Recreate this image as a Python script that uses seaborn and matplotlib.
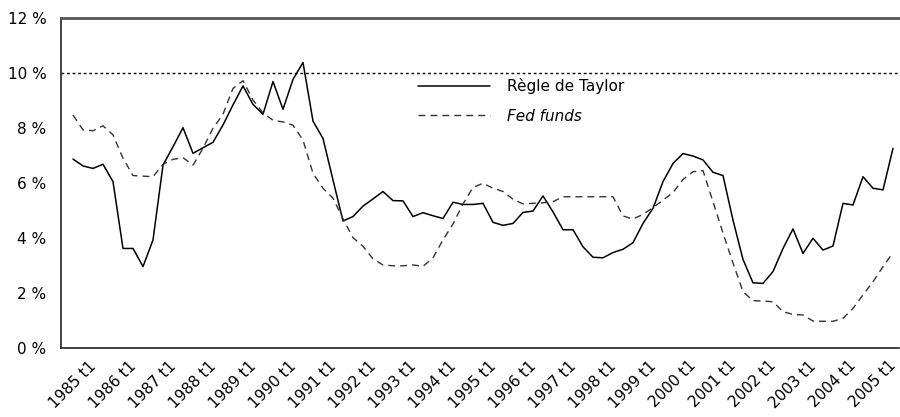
import matplotlib
matplotlib.use('Agg')
import matplotlib.pyplot as plt
import matplotlib.transforms as mtransforms
import seaborn as sns
import pandas as pd

# quarterly series, 1985 t1 .. 2005 t3 (in %)
years = list(range(1985, 2006))
taylor = [6.87, 6.62, 6.53, 6.68, 6.05, 3.62, 3.62, 2.96, 3.93, 6.65,
          7.32, 8.01, 7.08, 7.28, 7.48, 8.11, 8.84, 9.53, 8.86, 8.50,
          9.69, 8.68, 9.77, 10.38, 8.25, 7.62, 6.11, 4.62, 4.78, 5.16,
          5.42, 5.69, 5.36, 5.35, 4.78, 4.92, 4.81, 4.71, 5.30, 5.22,
          5.22, 5.26, 4.57, 4.46, 4.53, 4.93, 4.98, 5.53, 4.95, 4.30,
          4.30, 3.68, 3.30, 3.28, 3.47, 3.59, 3.83, 4.53, 5.08, 6.05,
          6.71, 7.07, 6.98, 6.84, 6.39, 6.27, 4.65, 3.22, 2.37, 2.35,
          2.78, 3.62, 4.33, 3.44, 3.99, 3.56, 3.71, 5.26, 5.20, 6.23,
          5.81, 5.75, 7.26]
fed_funds = [8.47, 7.93, 7.90, 8.08, 7.75, 6.90, 6.27, 6.25, 6.23, 6.68,
             6.86, 6.92, 6.65, 7.26, 7.99, 8.50, 9.44, 9.72, 9.02, 8.55,
             8.28, 8.22, 8.10, 7.56, 6.35, 5.81, 5.45, 4.70, 4.01, 3.70,
             3.24, 3.02, 2.99, 2.99, 3.02, 2.97, 3.28, 3.93, 4.51, 5.24,
             5.84, 5.99, 5.81, 5.69, 5.41, 5.24, 5.26, 5.28, 5.32, 5.50,
             5.50, 5.50, 5.50, 5.50, 5.50, 4.80, 4.69, 4.86, 5.10, 5.38,
             5.65, 6.13, 6.41, 6.45, 5.32, 4.18, 3.09, 2.05, 1.72, 1.71,
             1.68, 1.32, 1.22, 1.20, 0.98, 0.97, 0.97, 1.08, 1.44, 1.93,
             2.41, 2.96, 3.47]
y_ticks = [0, 2, 4, 6, 8, 10, 12]
reference_level = 10

df = pd.DataFrame({'q': range(len(taylor)), 'taylor': taylor, 'fed': fed_funds})

sns.set_style("white")
plt.rcParams['font.family'] = ['DejaVu Sans']
plt.rcParams['text.color'] = 'black'
plt.rcParams['xtick.labelcolor'] = 'black'
plt.rcParams['ytick.labelcolor'] = 'black'

fig = plt.figure(figsize=(9, 4.17), dpi=100)
ax = fig.add_axes([61 / 900, 1 - 348 / 417, 838 / 900, 330 / 417])

ax.axhline(reference_level, color='black', linestyle=(0, (2, 2)), linewidth=1.0)
sns.lineplot(data=df, x='q', y='taylor', ax=ax, color='black', linewidth=1.1,
             label='Règle de Taylor')
sns.lineplot(data=df, x='q', y='fed', ax=ax, color='#333333', linewidth=1.0,
             linestyle=(0, (5, 3.6)), label='Fed funds')

ax.set_xlim(-1.2, 82.6)
ax.set_ylim(0, 12)
ax.set_yticks(y_ticks)
ax.set_yticklabels([f'{v} %' for v in y_ticks], fontsize=11, color='black')
ax.set_xticks([4 * k for k in range(len(years))])
ax.set_xticklabels([f'{y} t1' for y in years], fontsize=11, rotation=45,
                   ha='right', va='center', rotation_mode='anchor', color='black')
ax.tick_params(axis='x', direction='in', length=7, width=1, color='#222222', pad=4)
ax.tick_params(axis='y', length=0, pad=10.5)
ax.set_xlabel('')
ax.set_ylabel('')

# shift the slanted year labels so they sit right of and below each tick
offset = mtransforms.ScaledTranslation(21 / 100, -10 / 100, fig.dpi_scale_trans)
for lab in ax.get_xticklabels():
    lab.set_transform(lab.get_transform() + offset)

for side in ['left', 'bottom']:
    ax.spines[side].set_color('#222222')
    ax.spines[side].set_linewidth(1.2)
ax.spines['top'].set_color('#555555')
ax.spines['top'].set_linewidth(2)
ax.spines['right'].set_visible(False)

leg = ax.legend(loc='upper left', bbox_to_anchor=(418 / 900, 1 - 78 / 417),
                bbox_transform=fig.transFigure, frameon=False, fontsize=11,
                handlelength=4.7, handletextpad=1.1, labelspacing=0.95,
                borderpad=0, borderaxespad=0)
for t in leg.get_texts():
    t.set_color('black')
leg.get_texts()[1].set_style('italic')

fig.savefig('out.png', dpi=100)
